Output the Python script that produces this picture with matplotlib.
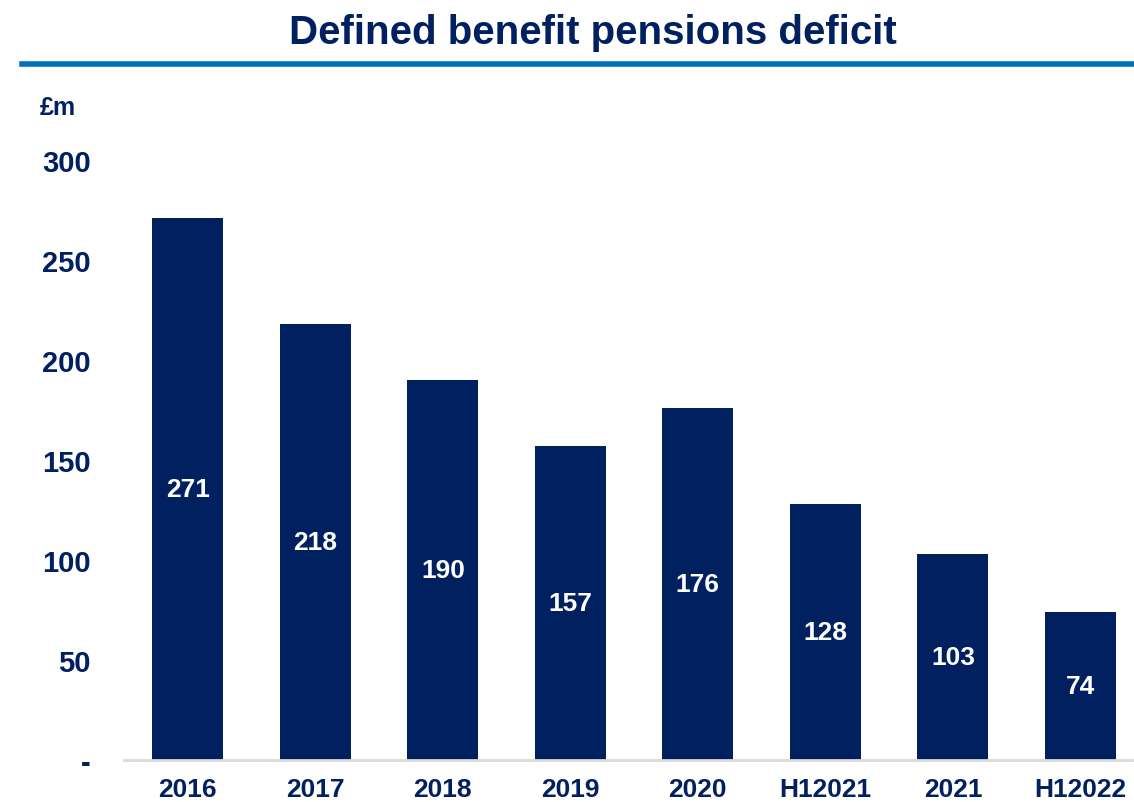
import matplotlib.pyplot as plt
from matplotlib.lines import Line2D

# Pension deficit by reporting period (£m)
periods = ["2016", "2017", "2018", "2019", "2020", "H12021", "2021", "H12022"]
deficit = [271, 218, 190, 157, 176, 128, 103, 74]

y_ticks = [0, 50, 100, 150, 200, 250, 300]
y_tick_labels = ["-", "50", "100", "150", "200", "250", "300"]

navy = "#002060"
accent = "#0070C0"

plt.rcParams["font.family"] = ["Liberation Sans", "DejaVu Sans"]
plt.rcParams["font.weight"] = "bold"

W, H = 1134, 803
fig = plt.figure(figsize=(W / 100, H / 100), dpi=100)

# axes box in pixel terms: left 124, right 1134, top 161 (=300), bottom 761 (=0)
ax = fig.add_axes([124 / W, 1 - 761 / H, (1134 - 124) / W, (761 - 161) / H])

x = list(range(len(periods)))
bars = ax.bar(x, deficit, width=0.556, color=navy, zorder=2)

for rect, val in zip(bars, deficit):
    ax.text(rect.get_x() + rect.get_width() / 2, val / 2, str(val),
            ha="center", va="center", color="white", fontsize=19, fontweight="bold")

ax.set_xlim(-0.5, 7.42)
ax.set_ylim(0, 300)
ax.set_xticks(x)
ax.set_xticklabels(periods, fontsize=19, fontweight="bold", color=navy)
ax.set_yticks(y_ticks)
ax.set_yticklabels(y_tick_labels, fontsize=21, fontweight="bold", color=navy)
ax.tick_params(axis="x", length=0, pad=12)
ax.tick_params(axis="y", length=0, pad=24)

for side in ["top", "right", "left"]:
    ax.spines[side].set_visible(False)
ax.spines["bottom"].set_color("#D9D9D9")
ax.spines["bottom"].set_linewidth(2)

# title and rule beneath it
fig.text(593 / W, 1 - 33 / H, "Defined benefit pensions deficit", ha="center", va="center",
         fontsize=29, fontweight="bold", color=navy)
fig.add_artist(Line2D([22 / W, 1.0], [1 - 64.5 / H, 1 - 64.5 / H], color=accent, linewidth=4,
                      transform=fig.transFigure))

fig.text(40 / W, 1 - 108 / H, "£m", ha="left", va="center", fontsize=18,
         fontweight="bold", color=navy)

fig.savefig("out.png", dpi=100)
